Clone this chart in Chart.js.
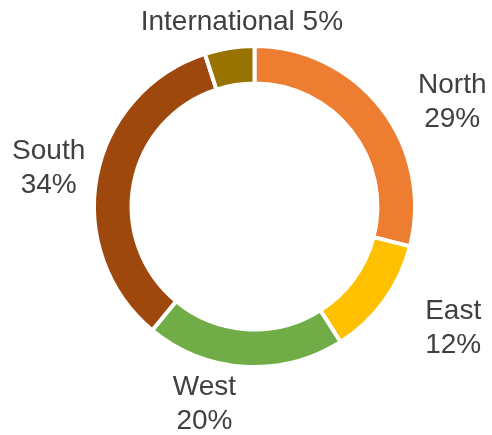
<!DOCTYPE html>
<html>
<head>
<meta charset="utf-8">
<script src="https://cdn.jsdelivr.net/npm/chart.js@4.4.1/dist/chart.umd.min.js"></script>
<style>
  html, body { margin: 0; padding: 0; background: #fff; }
  #wrap { width: 492px; height: 435px; }
</style>
</head>
<body>
<div id="wrap"><canvas id="regionChart" width="492" height="435"></canvas></div>
<script>
const regions = ['North', 'East', 'West', 'South', 'International'];
const shares = [29, 12, 20, 34, 5];
const regionColors = ['#ED7D31', '#FFC000', '#70AD47', '#9E480E', '#997300'];

// label nudges (px) from the radial anchor, one per slice
const labelShift = [[33, 24], [30, -1], [-37, -10], [-1, 1], [20, 22]];

const outsideLabels = {
  id: 'outsideLabels',
  afterDatasetsDraw(chart) {
    const { ctx } = chart;
    const meta = chart.getDatasetMeta(0);
    const total = shares.reduce((a, b) => a + b, 0);
    ctx.save();
    ctx.font = '28px "Liberation Sans", Arial, sans-serif';
    ctx.fillStyle = '#404040';
    ctx.textAlign = 'center';
    ctx.textBaseline = 'middle';
    meta.data.forEach((arc, i) => {
      const { x, y, startAngle, endAngle, outerRadius } = arc.getProps(
        ['x', 'y', 'startAngle', 'endAngle', 'outerRadius'], true);
      const mid = (startAngle + endAngle) / 2;
      const r = outerRadius + 48;
      const cx = x + Math.cos(mid) * r + labelShift[i][0];
      const cy = y + Math.sin(mid) * r + labelShift[i][1];
      const pct = Math.round(shares[i] / total * 100) + '%';
      const lines = regions[i] === 'International'
        ? [regions[i] + ' ' + pct]
        : [regions[i], pct];
      const lh = 34;
      lines.forEach((t, k) => {
        ctx.fillText(t, cx, cy + (k - (lines.length - 1) / 2) * lh);
      });
    });
    ctx.restore();
  }
};

new Chart(document.getElementById('regionChart'), {
  type: 'doughnut',
  data: {
    labels: regions,
    datasets: [{
      data: shares,
      backgroundColor: regionColors,
      borderColor: '#ffffff',
      borderWidth: 4,
      hoverOffset: 0,
    }],
  },
  options: {
    responsive: false,
    animation: false,
    cutout: '76.6%',
    layout: { padding: { top: 44, bottom: 66, left: 92, right: 75 } },
    plugins: {
      legend: { display: false },
      tooltip: { enabled: false },
    },
  },
  plugins: [outsideLabels],
});
</script>
</body>
</html>
